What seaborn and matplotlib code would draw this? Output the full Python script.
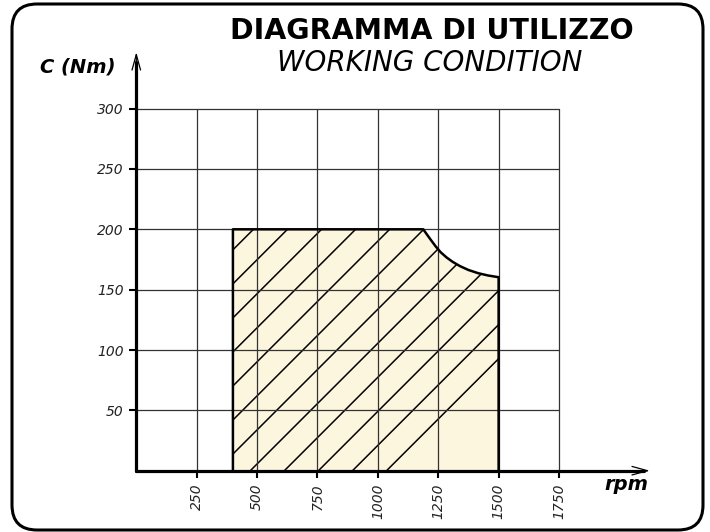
import matplotlib
matplotlib.use("Agg")
import matplotlib.pyplot as plt
import seaborn as sns
from matplotlib.patches import FancyBboxPatch
from matplotlib.transforms import IdentityTransform

# area di lavoro (rpm, Nm)
rpm = [400, 400, 1188, 1205, 1222, 1240, 1260, 1285, 1310, 1340, 1375, 1416, 1457, 1500, 1500]
coppia = [0, 200, 200, 195.2, 190.5, 185.7, 181, 176.6, 173, 169.5, 166.3, 163.6, 161.7, 160.3, 0]

x_ticks = [250, 500, 750, 1000, 1250, 1500, 1750]
y_ticks = [50, 100, 150, 200, 250, 300]

titolo = "DIAGRAMMA DI UTILIZZO"
sottotitolo = "WORKING CONDITION"

sns.set_style("white")
plt.rcParams["font.family"] = ["DejaVu Sans"]
plt.rcParams["text.color"] = "black"

W, H = 710, 532
fig = plt.figure(figsize=(W / 100, H / 100), dpi=100)
x0, x1, y0, y1 = 136.3, 559.0, 470.7, 108.6
ax = fig.add_axes([x0 / W, 1 - y0 / H, (x1 - x0) / W, (y0 - y1) / H])
ax.set_xlim(0, 1750)
ax.set_ylim(0, 300)

# riempimento + tratteggio
poly = ax.fill(rpm, coppia, facecolor="#fdf6de", edgecolor="none", zorder=1)[0]
for k in range(-8, 12):
    xc = 485 + 141 * k
    ln = ax.plot([xc - 1000, xc + 500], [0, 300], color="k", lw=1.1, zorder=1.5)[0]
    ln.set_clip_path(poly)

sns.lineplot(x=rpm, y=coppia, sort=False, estimator=None, color="k", lw=1.8,
             ax=ax, zorder=3)

# griglia
ax.set_xticks(x_ticks, [str(v) for v in x_ticks], rotation=90, fontstyle="italic",
              fontsize=10, color="#222222")
ax.set_yticks(y_ticks, [str(v) for v in y_ticks], fontstyle="italic",
              fontsize=10, color="#222222")
ax.set_axisbelow(False)
ax.grid(True, color="#333333", lw=0.9)
for gl in ax.get_xgridlines() + ax.get_ygridlines():
    gl.set_clip_on(False)
ax.tick_params(direction="out", length=5, width=1.5, color="k", pad=4,
               bottom=True, left=True)
for s in ax.spines.values():
    s.set_visible(False)
ax.set_xlabel("")
ax.set_ylabel("")

# assi con freccia
freccia = dict(arrowstyle="->,head_length=0.8,head_width=0.22", lw=0.9, color="k",
               mutation_scale=14, shrinkA=0, shrinkB=0)
ax.plot([0, 1.2], [0, 0], transform=ax.transAxes, clip_on=False, color="k", lw=2.3, zorder=4)
ax.plot([0, 0], [0, 1.13], transform=ax.transAxes, clip_on=False, color="k", lw=2.3, zorder=4)
ax.annotate("", xy=(1.215, 0), xytext=(1.16, 0), xycoords="axes fraction",
            arrowprops=freccia)
ax.annotate("", xy=(0, 1.156), xytext=(0, 1.09), xycoords="axes fraction",
            arrowprops=freccia)

# testi
fig.text(432 / W, 1 - 31 / H, titolo, ha="center", va="center", fontsize=20.5,
         fontweight="bold")
fig.text(430 / W, 1 - 63 / H, sottotitolo, ha="center", va="center", fontsize=20,
         fontstyle="italic")
fig.text(78 / W, 1 - 67 / H, "C (Nm)", ha="center", va="center", fontsize=14,
         fontweight="bold", fontstyle="italic")
fig.text(626 / W, 1 - 490 / H, "rpm", ha="center", va="baseline", fontsize=14,
         fontweight="bold", fontstyle="italic")

# cornice arrotondata
box = FancyBboxPatch((12, 2), 691, 526, boxstyle="round,pad=0,rounding_size=25",
                     transform=IdentityTransform(), facecolor="none",
                     edgecolor="k", lw=2.2)
fig.add_artist(box)

fig.savefig("out.png", dpi=100)
